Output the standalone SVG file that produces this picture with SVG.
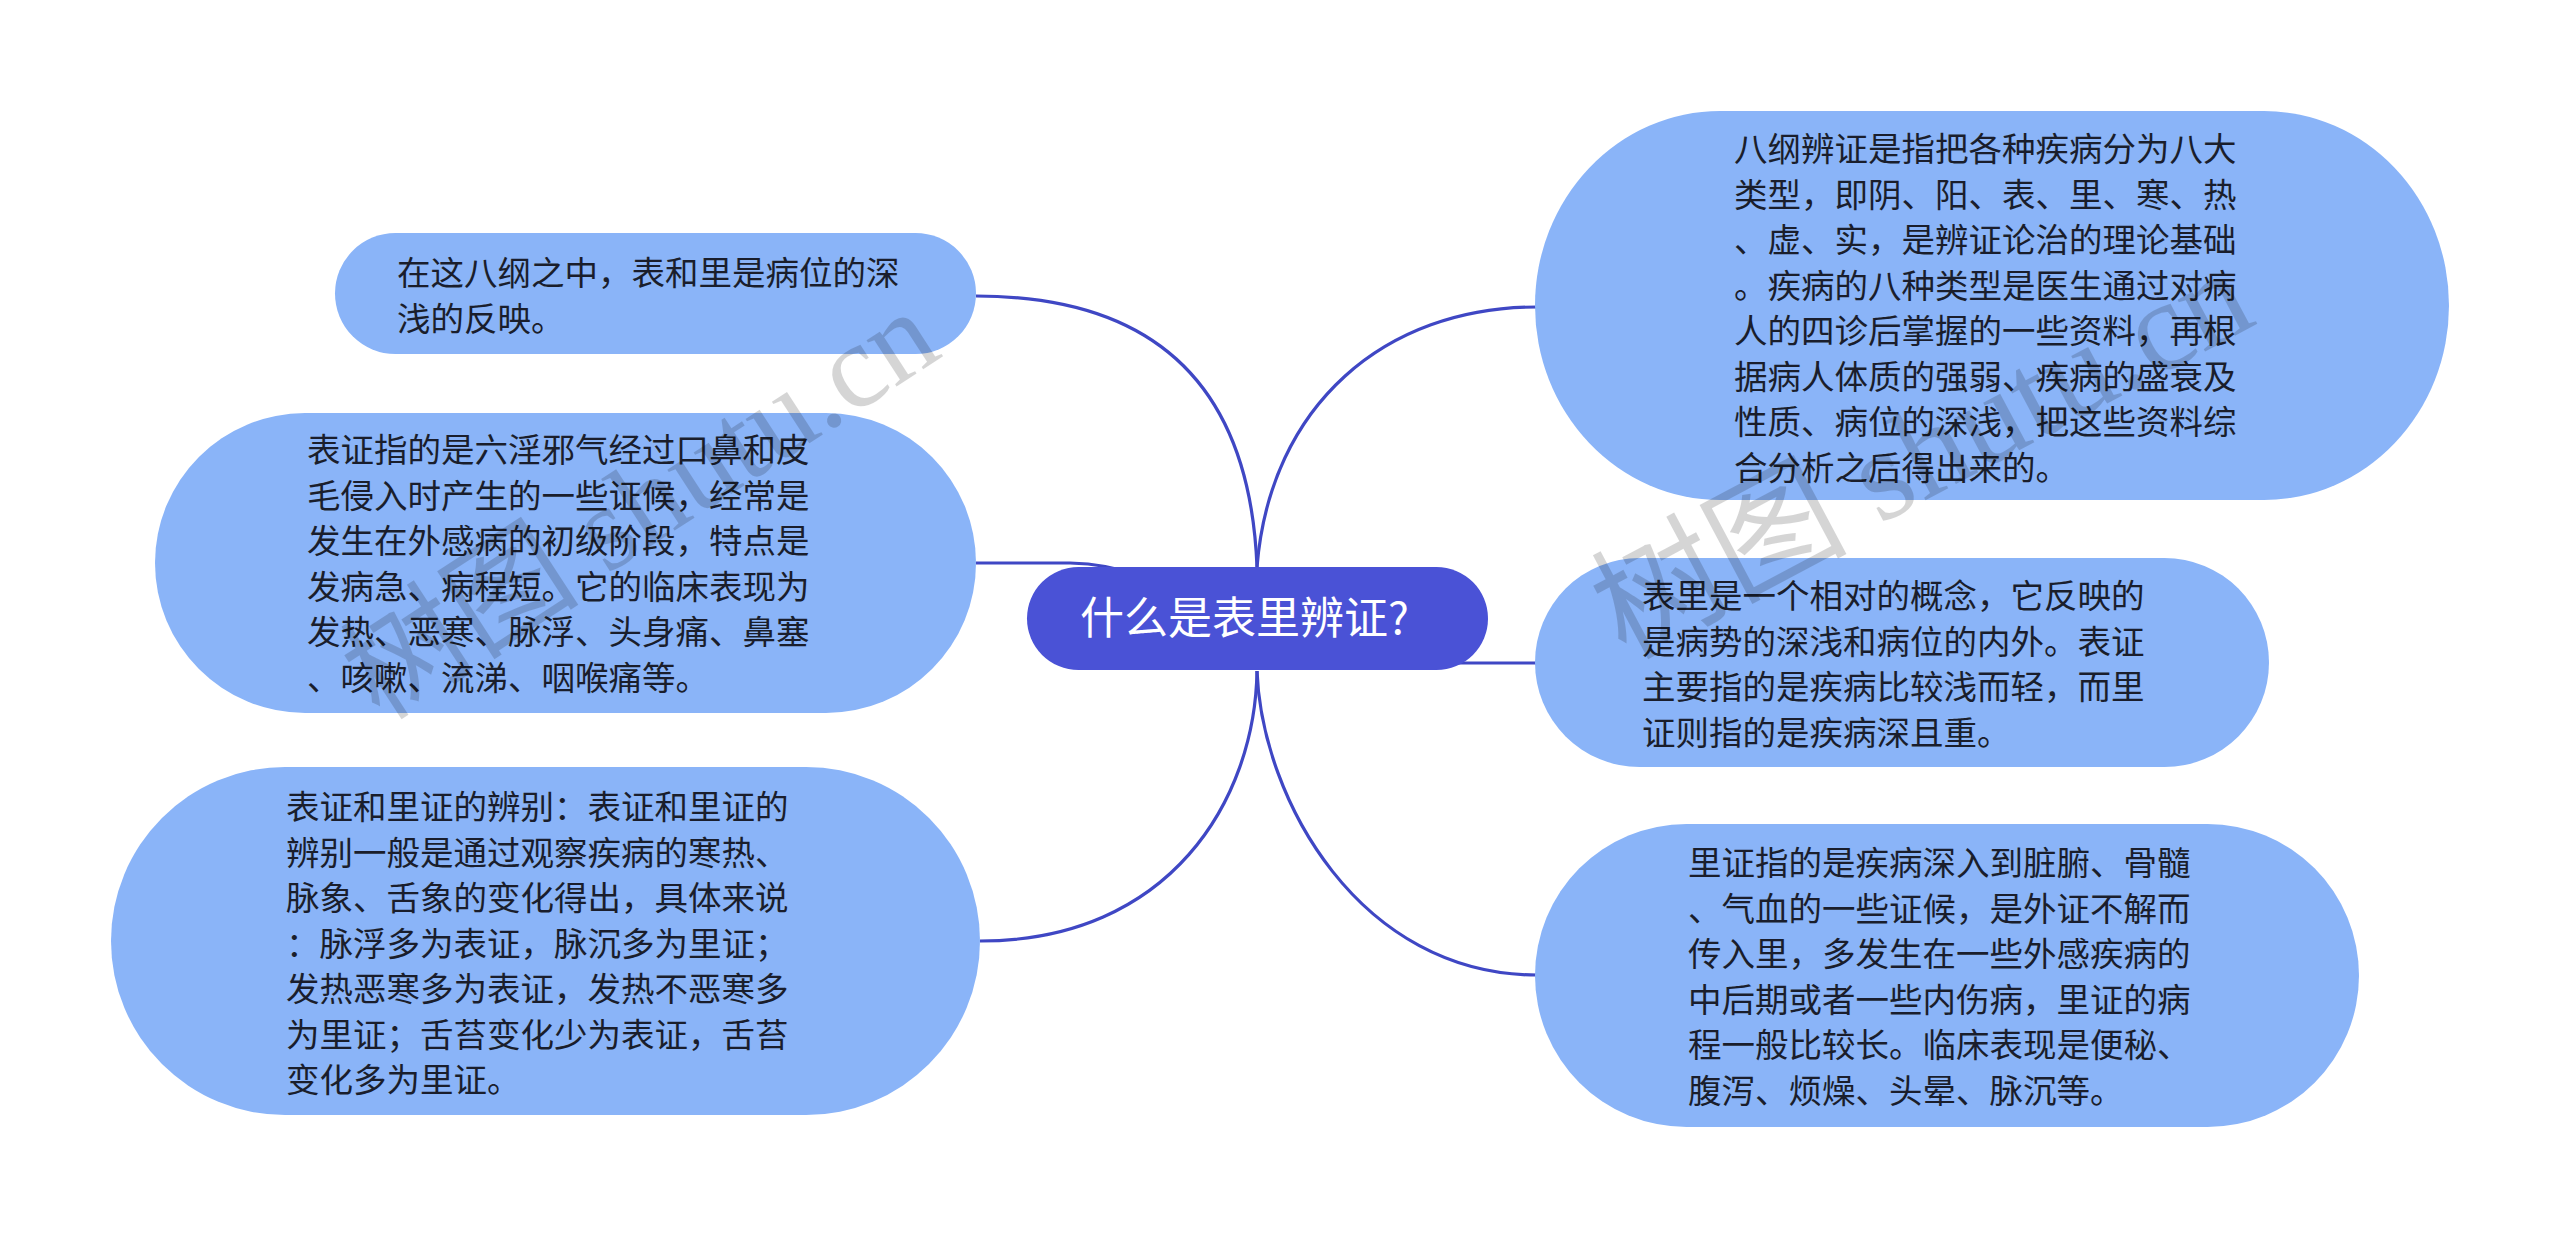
<svg xmlns="http://www.w3.org/2000/svg" width="2560" height="1239" viewBox="0 0 2560 1239">
<style>
.bg{fill:#ffffff}
.edge{fill:none;stroke:#3f47c4;stroke-width:3.2}
.sub{fill:#8ab4f8}
.root{fill:#4a52d6}
.t{font-family:"Noto Sans CJK SC","Noto Sans",sans-serif;font-size:33.5px;fill:#1a1e2c}
.rt{font-family:"Noto Sans CJK SC","Noto Sans",sans-serif;font-size:44px;fill:#ffffff}
.wm{font-family:"Liberation Serif","Noto Sans CJK SC",serif;fill:#000000;opacity:0.16}
</style>
<rect class="bg" x="0" y="0" width="2560" height="1239"/>
<g id="connectors">
<path class="edge" d="M1257,567 C1250,390 1160,296 976,296"/>
<path class="edge" d="M976,563 L1070,563 C1120,564 1160,580 1200,610"/>
<path class="edge" d="M1257,671 C1255,800 1170,941 980,941"/>
<path class="edge" d="M1257,567 C1270,405 1385,307 1537,307"/>
<path class="edge" d="M1537,663 L1450,663 C1400,662 1360,650 1320,630"/>
<path class="edge" d="M1257,671 C1262,800 1360,975 1537,975"/>
</g>
<g id="root">
<rect class="root" x="1027" y="567" width="461" height="103" rx="51.5"/>
<text class="rt" x="1080" y="634">什么是表里辨证?</text>
</g>
<g id="node-a">
<rect class="sub" x="335" y="233" width="641" height="121" rx="60.5"/>
<text class="t"><tspan x="397" y="285">在这八纲之中，表和里是病位的深</tspan><tspan x="397" y="330.5">浅的反映。</tspan></text>
</g>
<g id="node-b">
<rect class="sub" x="155" y="413" width="821" height="300" rx="150"/>
<text class="t"><tspan x="307" y="462">表证指的是六淫邪气经过口鼻和皮</tspan><tspan x="307" y="507.5">毛侵入时产生的一些证候，经常是</tspan><tspan x="307" y="553">发生在外感病的初级阶段，特点是</tspan><tspan x="307" y="598.5">发病急、病程短。它的临床表现为</tspan><tspan x="307" y="644">发热、恶寒、脉浮、头身痛、鼻塞</tspan><tspan x="307" y="689.5">、咳嗽、流涕、咽喉痛等。</tspan></text>
</g>
<g id="node-c">
<rect class="sub" x="111" y="767" width="869" height="348" rx="174"/>
<text class="t"><tspan x="286" y="819">表证和里证的辨别：表证和里证的</tspan><tspan x="286" y="864.5">辨别一般是通过观察疾病的寒热、</tspan><tspan x="286" y="910">脉象、舌象的变化得出，具体来说</tspan><tspan x="286" y="955.5">：脉浮多为表证，脉沉多为里证；</tspan><tspan x="286" y="1001">发热恶寒多为表证，发热不恶寒多</tspan><tspan x="286" y="1046.5">为里证；舌苔变化少为表证，舌苔</tspan><tspan x="286" y="1092">变化多为里证。</tspan></text>
</g>
<g id="node-d">
<rect class="sub" x="1535" y="111" width="914" height="389" rx="185" ry="194.5"/>
<text class="t"><tspan x="1734" y="161">八纲辨证是指把各种疾病分为八大</tspan><tspan x="1734" y="206.5">类型，即阴、阳、表、里、寒、热</tspan><tspan x="1734" y="252">、虚、实，是辨证论治的理论基础</tspan><tspan x="1734" y="297.5">。疾病的八种类型是医生通过对病</tspan><tspan x="1734" y="343">人的四诊后掌握的一些资料，再根</tspan><tspan x="1734" y="388.5">据病人体质的强弱、疾病的盛衰及</tspan><tspan x="1734" y="434">性质、病位的深浅，把这些资料综</tspan><tspan x="1734" y="479.5">合分析之后得出来的。</tspan></text>
</g>
<g id="node-e">
<rect class="sub" x="1535" y="558" width="734" height="209" rx="104.5"/>
<text class="t"><tspan x="1642" y="608">表里是一个相对的概念，它反映的</tspan><tspan x="1642" y="653.5">是病势的深浅和病位的内外。表证</tspan><tspan x="1642" y="699">主要指的是疾病比较浅而轻，而里</tspan><tspan x="1642" y="744.5">证则指的是疾病深且重。</tspan></text>
</g>
<g id="node-f">
<rect class="sub" x="1535" y="824" width="824" height="303" rx="151.5"/>
<text class="t"><tspan x="1688" y="875">里证指的是疾病深入到脏腑、骨髓</tspan><tspan x="1688" y="920.5">、气血的一些证候，是外证不解而</tspan><tspan x="1688" y="966">传入里，多发生在一些外感疾病的</tspan><tspan x="1688" y="1011.5">中后期或者一些内伤病，里证的病</tspan><tspan x="1688" y="1057">程一般比较长。临床表现是便秘、</tspan><tspan x="1688" y="1102.5">腹泻、烦燥、头晕、脉沉等。</tspan></text>
</g>
<g id="watermark">
<text class="wm" x="0" y="0" font-size="120" transform="translate(380,722) rotate(-33)">树图 shutu.cn</text>
<text class="wm" x="0" y="0" font-size="128" transform="translate(1625,660) rotate(-28)">树图 shutu.cn</text>
</g>
</svg>
